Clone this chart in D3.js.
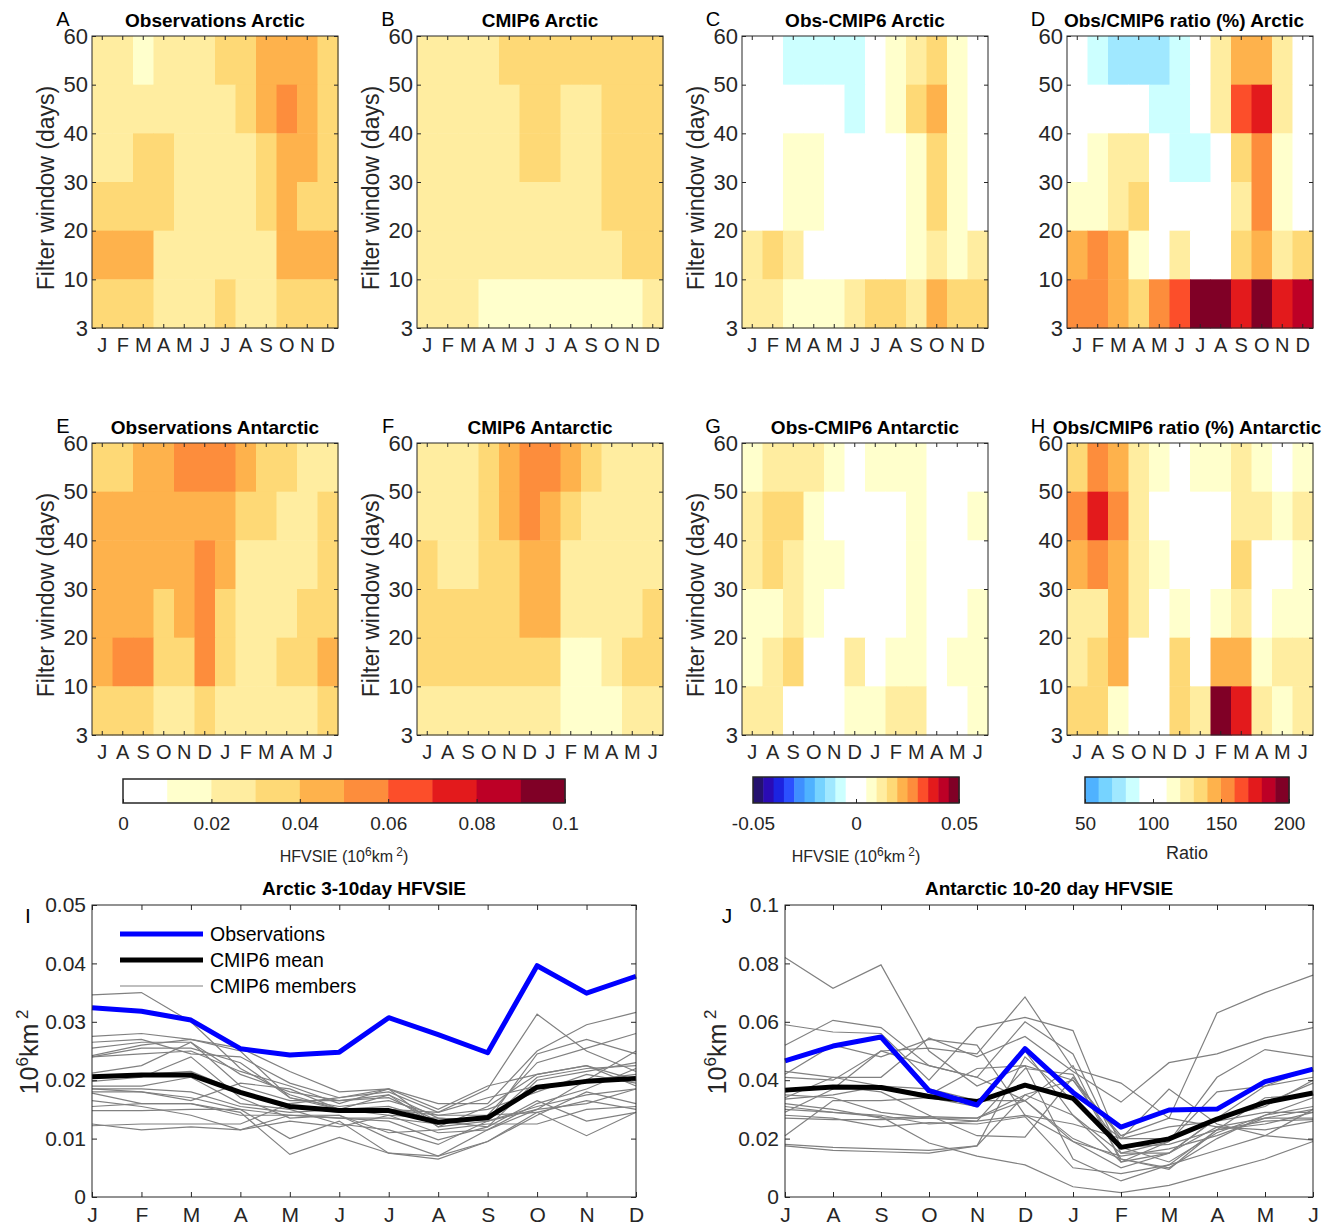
<!DOCTYPE html>
<html>
<head>
<meta charset="utf-8">
<script src="https://cdn.jsdelivr.net/npm/d3@7"></script>
<style>
  body { margin: 0; background: #fff; }
  svg text { font-family: "Liberation Sans", Arial, Helvetica, sans-serif; fill: #262626; }
</style>
</head>
<body>
<svg id="fig" width="1335" height="1226"></svg>
<script>
// month labels
const monthsNH = ["J","F","M","A","M","J","J","A","S","O","N","D"];
const monthsSH = ["J","A","S","O","N","D","J","F","M","A","M","J"];

// filter window tick labels (bottom to top) and the bands between them
const windowTicks = [3, 10, 20, 30, 40, 50, 60];
// grid rows below are listed top to bottom in this order
const windowBands = ["50-60", "40-50", "30-40", "20-30", "10-20", "3-10"];

// HFVSIE (10^6 km^2), observations, Arctic
const obsArctic = [
  [0.025,0.025,0.015,0.025,0.025,0.025,0.035,0.035,0.045,0.045,0.045,0.035],
  [0.025,0.025,0.025,0.025,0.025,0.025,0.025,0.035,0.045,0.055,0.045,0.035],
  [0.025,0.025,0.035,0.035,0.025,0.025,0.025,0.025,0.035,0.045,0.045,0.035],
  [0.035,0.035,0.035,0.035,0.025,0.025,0.025,0.025,0.035,0.045,0.035,0.035],
  [0.045,0.045,0.045,0.025,0.025,0.025,0.025,0.025,0.025,0.045,0.045,0.045],
  [0.035,0.035,0.035,0.025,0.025,0.025,0.035,0.025,0.025,0.035,0.035,0.035]
];
// CMIP6 mean, Arctic
const cmipArctic = [
  [0.025,0.025,0.025,0.025,0.035,0.035,0.035,0.035,0.035,0.035,0.035,0.035],
  [0.025,0.025,0.025,0.025,0.025,0.035,0.035,0.025,0.025,0.035,0.035,0.035],
  [0.025,0.025,0.025,0.025,0.025,0.035,0.035,0.025,0.025,0.035,0.035,0.035],
  [0.025,0.025,0.025,0.025,0.025,0.025,0.025,0.025,0.025,0.035,0.035,0.035],
  [0.025,0.025,0.025,0.025,0.025,0.025,0.025,0.025,0.025,0.025,0.035,0.035],
  [0.025,0.025,0.025,0.015,0.015,0.015,0.015,0.015,0.015,0.015,0.015,0.025]
];
// Obs - CMIP6, Arctic
const diffArctic = [
  [0,0,-0.0075,-0.0075,-0.0075,-0.0075,0,0.0075,0.0125,0.0175,0.0075,0],
  [0,0,0,0,0,-0.0075,0,0.0075,0.0175,0.0225,0.0075,0],
  [0,0,0.0075,0.0075,0,0,0,0,0.0075,0.0175,0.0075,0],
  [0,0,0.0075,0.0075,0,0,0,0,0.0075,0.0175,0.0075,0],
  [0.0125,0.0175,0.0125,0,0,0,0,0,0.0075,0.0125,0.0075,0.0125],
  [0.0125,0.0125,0.0075,0.0075,0.0075,0.0125,0.0175,0.0175,0.0125,0.0225,0.0175,0.0175]
];
// Obs/CMIP6 ratio (%), Arctic
const ratioArctic = [
  [100,85,75,75,75,85,100,125,145,145,125,100],
  [100,100,100,100,85,85,100,125,165,175,125,100],
  [100,115,125,125,100,85,85,100,135,155,115,100],
  [115,115,125,135,100,100,100,100,125,155,115,100],
  [145,155,145,115,100,125,100,100,135,145,125,135],
  [155,155,145,135,155,165,195,195,175,195,175,185]
];
// observations, Antarctic (July to June)
const obsAntarctic = [
  [0.035,0.035,0.045,0.045,0.055,0.055,0.055,0.045,0.035,0.035,0.025,0.025],
  [0.045,0.045,0.045,0.045,0.045,0.045,0.045,0.035,0.035,0.025,0.025,0.035],
  [0.045,0.045,0.045,0.045,0.045,0.055,0.045,0.025,0.025,0.025,0.025,0.035],
  [0.045,0.045,0.045,0.035,0.045,0.055,0.035,0.025,0.025,0.025,0.035,0.035],
  [0.045,0.055,0.055,0.035,0.035,0.055,0.035,0.025,0.025,0.035,0.035,0.045],
  [0.035,0.035,0.035,0.025,0.025,0.035,0.025,0.025,0.025,0.025,0.025,0.035]
];
// CMIP6 mean, Antarctic
const cmipAntarctic = [
  [0.025,0.025,0.025,0.035,0.045,0.055,0.055,0.045,0.035,0.025,0.025,0.025],
  [0.025,0.025,0.025,0.035,0.045,0.055,0.045,0.035,0.025,0.025,0.025,0.025],
  [0.035,0.025,0.025,0.035,0.035,0.045,0.045,0.025,0.025,0.025,0.025,0.025],
  [0.035,0.035,0.035,0.035,0.035,0.045,0.045,0.025,0.025,0.025,0.025,0.035],
  [0.035,0.035,0.035,0.035,0.035,0.035,0.035,0.015,0.015,0.025,0.035,0.035],
  [0.025,0.025,0.025,0.025,0.025,0.025,0.025,0.015,0.015,0.015,0.025,0.025]
];
// Obs - CMIP6, Antarctic
const diffAntarctic = [
  [0.0075,0.0125,0.0125,0.0125,0.0075,0,0.0075,0.0075,0.0075,0,0,0],
  [0.0125,0.0175,0.0175,0.0075,0,0,0,0,0.0075,0,0,0.0075],
  [0.0125,0.0175,0.0125,0.0075,0.0075,0,0,0,0.0075,0,0,0],
  [0.0075,0.0075,0.0125,0.0075,0,0,0,0,0.0075,0,0,0.0075],
  [0.0075,0.0125,0.0175,0,0,0.0125,0,0.0075,0.0075,0,0.0075,0.0075],
  [0.0125,0.0125,0,0,0,0.0075,0.0075,0.0125,0.0125,0,0,0.0075]
];
// Obs/CMIP6 ratio (%), Antarctic
const ratioAntarctic = [
  [135,155,145,125,115,100,115,115,125,115,100,115],
  [155,175,155,125,100,100,100,100,125,125,115,125],
  [145,155,145,125,115,100,100,100,135,100,100,115],
  [125,125,145,125,100,115,100,115,125,100,115,115],
  [125,135,145,100,100,135,100,145,145,115,125,125],
  [135,135,115,100,100,135,125,195,175,125,115,125]
];

// panel I: Arctic 3-10 day HFVSIE by month
const arcticObs  = [0.0324,0.0318,0.0303,0.0254,0.0243,0.0248,0.0307,0.0278,0.0247,0.0396,0.0349,0.0378];
const arcticMean = [0.0206,0.0209,0.0209,0.0179,0.0155,0.0148,0.0148,0.0128,0.0136,0.0188,0.0198,0.0203];
const arcticMembers = [
  [0.0346,0.0350,0.0300,0.0220,0.0175,0.0150,0.0155,0.0130,0.0135,0.0190,0.0200,0.0210],
  [0.0275,0.0280,0.0270,0.0255,0.0215,0.0180,0.0185,0.0160,0.0160,0.0250,0.0295,0.0316],
  [0.0265,0.0270,0.0245,0.0240,0.0195,0.0170,0.0180,0.0145,0.0185,0.0313,0.0250,0.0215],
  [0.0255,0.0265,0.0265,0.0210,0.0180,0.0165,0.0175,0.0135,0.0130,0.0245,0.0270,0.0245],
  [0.0242,0.0260,0.0270,0.0250,0.0170,0.0155,0.0165,0.0140,0.0140,0.0230,0.0255,0.0280],
  [0.0240,0.0245,0.0250,0.0215,0.0190,0.0160,0.0185,0.0120,0.0155,0.0210,0.0225,0.0200],
  [0.0212,0.0225,0.0265,0.0190,0.0165,0.0165,0.0170,0.0130,0.0120,0.0200,0.0215,0.0230],
  [0.0205,0.0210,0.0215,0.0180,0.0155,0.0145,0.0150,0.0140,0.0150,0.0180,0.0210,0.0195],
  [0.0198,0.0205,0.0240,0.0170,0.0135,0.0140,0.0100,0.0070,0.0115,0.0160,0.0185,0.0220],
  [0.0190,0.0190,0.0205,0.0160,0.0150,0.0125,0.0115,0.0090,0.0130,0.0155,0.0175,0.0185],
  [0.0185,0.0185,0.0180,0.0155,0.0145,0.0150,0.0140,0.0110,0.0115,0.0150,0.0160,0.0185],
  [0.0180,0.0180,0.0170,0.0150,0.0100,0.0130,0.0075,0.0065,0.0095,0.0140,0.0180,0.0160],
  [0.0178,0.0160,0.0160,0.0145,0.0073,0.0102,0.0075,0.0070,0.0095,0.0145,0.0165,0.0150],
  [0.0165,0.0155,0.0140,0.0115,0.0140,0.0135,0.0130,0.0098,0.0120,0.0165,0.0130,0.0145],
  [0.0155,0.0160,0.0160,0.0140,0.0140,0.0135,0.0135,0.0125,0.0140,0.0145,0.0105,0.0145],
  [0.0148,0.0148,0.0150,0.0150,0.0140,0.0140,0.0110,0.0115,0.0125,0.0125,0.0150,0.0155],
  [0.0125,0.0115,0.0120,0.0115,0.0130,0.0120,0.0140,0.0135,0.0130,0.0150,0.0200,0.0250],
  [0.0122,0.0125,0.0125,0.0125,0.0160,0.0170,0.0185,0.0150,0.0190,0.0210,0.0225,0.0190],
  [0.0185,0.0180,0.0165,0.0195,0.0185,0.0150,0.0150,0.0145,0.0170,0.0190,0.0200,0.0205],
  [0.0240,0.0255,0.0255,0.0230,0.0170,0.0150,0.0175,0.0120,0.0130,0.0205,0.0220,0.0225]
];

// panel J: Antarctic 10-20 day HFVSIE by month (July to June)
const antarcticObs  = [0.0466,0.0517,0.0548,0.0364,0.0315,0.0508,0.0358,0.0239,0.0298,0.0301,0.0395,0.0438];
const antarcticMean = [0.0366,0.0377,0.0375,0.0344,0.0327,0.0383,0.0338,0.0170,0.0199,0.0267,0.0324,0.0356];
const antarcticMembers = [
  [0.0820,0.0715,0.0795,0.0500,0.0380,0.0450,0.0400,0.0210,0.0270,0.0240,0.0270,0.0300],
  [0.0590,0.0565,0.0560,0.0400,0.0580,0.0615,0.0570,0.0170,0.0120,0.0220,0.0280,0.0340],
  [0.0520,0.0605,0.0580,0.0450,0.0410,0.0600,0.0490,0.0150,0.0190,0.0410,0.0505,0.0480],
  [0.0430,0.0410,0.0410,0.0545,0.0480,0.0550,0.0430,0.0325,0.0460,0.0490,0.0545,0.0580],
  [0.0410,0.0400,0.0500,0.0510,0.0490,0.0685,0.0440,0.0390,0.0270,0.0630,0.0700,0.0760],
  [0.0360,0.0380,0.0360,0.0280,0.0210,0.0205,0.0410,0.0200,0.0370,0.0250,0.0210,0.0195],
  [0.0350,0.0340,0.0290,0.0270,0.0260,0.0440,0.0420,0.0130,0.0100,0.0200,0.0280,0.0310],
  [0.0320,0.0300,0.0270,0.0275,0.0270,0.0350,0.0280,0.0120,0.0190,0.0360,0.0380,0.0410],
  [0.0300,0.0290,0.0280,0.0250,0.0260,0.0280,0.0190,0.0100,0.0150,0.0270,0.0310,0.0400],
  [0.0280,0.0270,0.0240,0.0255,0.0250,0.0275,0.0100,0.0080,0.0110,0.0230,0.0250,0.0290],
  [0.0270,0.0265,0.0265,0.0270,0.0270,0.0330,0.0190,0.0140,0.0165,0.0210,0.0270,0.0270],
  [0.0210,0.0330,0.0330,0.0340,0.0310,0.0500,0.0280,0.0150,0.0150,0.0240,0.0230,0.0260],
  [0.0180,0.0170,0.0165,0.0160,0.0175,0.0350,0.0400,0.0170,0.0180,0.0230,0.0260,0.0265],
  [0.0175,0.0160,0.0155,0.0150,0.0175,0.0480,0.0330,0.0200,0.0240,0.0260,0.0290,0.0290],
  [0.0310,0.0290,0.0275,0.0185,0.0140,0.0110,0.0035,0.0015,0.0040,0.0085,0.0130,0.0190],
  [0.0340,0.0410,0.0380,0.0350,0.0440,0.0450,0.0130,0.0055,0.0110,0.0160,0.0210,0.0300],
  [0.0290,0.0370,0.0500,0.0450,0.0410,0.0330,0.0200,0.0130,0.0095,0.0230,0.0340,0.0350],
  [0.0420,0.0520,0.0480,0.0540,0.0520,0.0280,0.0250,0.0200,0.0200,0.0270,0.0380,0.0440],
  [0.0335,0.0350,0.0380,0.0370,0.0330,0.0330,0.0450,0.0120,0.0150,0.0270,0.0320,0.0390]
];

// colour tables
const ylOrRd = ["#ffffcc","#ffeda0","#fed976","#feb24c","#fd8d3c","#fc4e2a","#e31a1c","#bd0026","#800026"];
const blues  = ["#24126f","#2a0bb5","#1c23e0","#2b50ff","#3f8fff","#4fb2ff","#76d3ff","#a0e8ff","#ccffff"];

const hfvsieColor = d3.scaleThreshold()
  .domain(d3.range(1, 10).map(i => i / 100))
  .range(["#ffffff", ...ylOrRd]);
const diffColor = d3.scaleThreshold()
  .domain(d3.range(-9, 10).map(i => i * 0.005))
  .range([...blues, "#ffffff", "#ffffff", ...ylOrRd]);
const ratioColor = d3.scaleThreshold()
  .domain(d3.range(60, 200, 10))
  .range([...blues.slice(5), "#ffffff", "#ffffff", ...ylOrRd]);

const svg = d3.select("#fig");
const axisCol = "#262626";

// heatmap geometry
const W = 246, H = 292;
const lefts = [92, 417, 742, 1067];
const tops = [36, 443];

function styleAxis(sel, size) {
  sel.select(".domain").remove();
  sel.selectAll(".tick line").attr("stroke", axisCol);
  sel.selectAll(".tick text").attr("font-size", size).attr("fill", axisCol);
}

function heatmap(p) {
  const g = svg.append("g");
  const x = d3.scaleBand().domain(d3.range(12)).range([p.left, p.left + W]);
  const y = d3.scaleBand().domain(windowBands).range([p.top, p.top + H]);
  const yt = d3.scalePoint().domain(windowTicks).range([p.top + H, p.top]);

  const cells = p.grid.flatMap((row, r) => row.map((v, c) => ({ band: windowBands[r], c, v })));
  g.selectAll("rect.cell")
    .data(cells)
    .join("rect")
    .attr("class", "cell")
    .attr("x", d => x(d.c))
    .attr("y", d => y(d.band))
    .attr("width", x.bandwidth() + 0.5)
    .attr("height", y.bandwidth() + 0.5)
    .attr("fill", d => p.color(d.v));

  g.append("g").attr("transform", `translate(0,${p.top + H})`)
    .call(d3.axisBottom(x).tickSize(-4).tickPadding(10).tickFormat(i => p.months[i]))
    .call(styleAxis, 20);
  g.append("g").attr("transform", `translate(0,${p.top})`)
    .call(d3.axisTop(x).tickSize(-4).tickFormat(""))
    .call(styleAxis, 20);
  g.append("g").attr("transform", `translate(${p.left},0)`)
    .call(d3.axisLeft(yt).tickSize(-4).tickPadding(4))
    .call(styleAxis, 22);
  g.append("g").attr("transform", `translate(${p.left + W},0)`)
    .call(d3.axisRight(yt).tickSize(-4).tickFormat(""))
    .call(styleAxis, 22);

  g.append("rect")
    .attr("x", p.left).attr("y", p.top).attr("width", W).attr("height", H)
    .attr("fill", "none").attr("stroke", axisCol).attr("stroke-width", 1);

  g.append("text")
    .attr("x", p.left + W / 2 + (p.titleShift || 0)).attr("y", p.top - 9)
    .attr("text-anchor", "middle").attr("font-size", 19).attr("font-weight", "bold")
    .style("fill", "#000")
    .text(p.title);
  g.append("text")
    .attr("x", p.left - 29).attr("y", p.top - 10)
    .attr("text-anchor", "middle").attr("font-size", 20)
    .style("fill", "#000")
    .text(p.letter);

  if (p.ylabel) {
    g.append("text")
      .attr("transform", `translate(${p.left - 38},${p.top + H / 2 + 6}) rotate(-90)`)
      .attr("text-anchor", "middle").attr("font-size", 23)
      .text("Filter window (days)");
  }
}

const panels = [
  { grid: obsArctic,      color: hfvsieColor, title: "Observations Arctic",          letter: "A", months: monthsNH, ylabel: true },
  { grid: cmipArctic,     color: hfvsieColor, title: "CMIP6 Arctic",                 letter: "B", months: monthsNH, ylabel: true },
  { grid: diffArctic,     color: diffColor,   title: "Obs-CMIP6 Arctic",             letter: "C", months: monthsNH, ylabel: true },
  { grid: ratioArctic,    color: ratioColor,  title: "Obs/CMIP6 ratio (%) Arctic",   letter: "D", months: monthsNH, ylabel: false, titleShift: -6 },
  { grid: obsAntarctic,   color: hfvsieColor, title: "Observations Antarctic",       letter: "E", months: monthsSH, ylabel: true },
  { grid: cmipAntarctic,  color: hfvsieColor, title: "CMIP6 Antarctic",              letter: "F", months: monthsSH, ylabel: true },
  { grid: diffAntarctic,  color: diffColor,   title: "Obs-CMIP6 Antarctic",          letter: "G", months: monthsSH, ylabel: true },
  { grid: ratioAntarctic, color: ratioColor,  title: "Obs/CMIP6 ratio (%) Antarctic", letter: "H", months: monthsSH, ylabel: false, titleShift: -3 }
];
panels.forEach((p, i) => heatmap({ ...p, left: lefts[i % 4], top: tops[Math.floor(i / 4)] }));

// colorbars
function colorbar(cb) {
  const g = svg.append("g");
  const x = d3.scaleLinear().domain(cb.domain).range([cb.x0, cb.x1]);
  const edges = [cb.domain[0], ...cb.color.domain(), cb.domain[1]];
  g.selectAll("rect.seg")
    .data(d3.pairs(edges))
    .join("rect")
    .attr("class", "seg")
    .attr("x", d => x(d[0]))
    .attr("y", cb.y0)
    .attr("width", d => x(d[1]) - x(d[0]) + 0.5)
    .attr("height", cb.y1 - cb.y0)
    .attr("fill", (d, i) => cb.color.range()[i]);
  g.append("g").attr("transform", `translate(0,${cb.y1})`)
    .call(d3.axisBottom(x).tickValues(cb.ticks).tickSize(-4).tickPadding(14).tickFormat(cb.fmt))
    .call(styleAxis, 19);
  g.append("rect")
    .attr("x", cb.x0).attr("y", cb.y0).attr("width", cb.x1 - cb.x0).attr("height", cb.y1 - cb.y0)
    .attr("fill", "none").attr("stroke", axisCol).attr("stroke-width", 1.5);
  const lbl = g.append("text")
    .attr("x", (cb.x0 + cb.x1) / 2).attr("y", cb.labelY)
    .attr("text-anchor", "middle").attr("font-size", cb.labelSize);
  if (cb.units) {
    lbl.append("tspan").text("HFVSIE (10");
    lbl.append("tspan").attr("dy", -6).attr("font-size", 12).text("6");
    lbl.append("tspan").attr("dy", 6).text("km");
    lbl.append("tspan").attr("dy", -6).attr("font-size", 12).text(" 2");
    lbl.append("tspan").attr("dy", 6).text(")");
  } else {
    lbl.text(cb.label);
  }
}

const numFmt = d => d === 0 ? "0" : String(+d.toFixed(3));
colorbar({ color: hfvsieColor, domain: [0, 0.1], x0: 123, x1: 565, y0: 779, y1: 803,
  ticks: [0, 0.02, 0.04, 0.06, 0.08, 0.1], fmt: numFmt, units: true, labelY: 862, labelSize: 16 });
colorbar({ color: diffColor, domain: [-0.05, 0.05], x0: 753, x1: 959, y0: 777, y1: 803,
  ticks: [-0.05, 0, 0.05], fmt: numFmt, units: true, labelY: 862, labelSize: 16 });
colorbar({ color: ratioColor, domain: [50, 200], x0: 1085, x1: 1289, y0: 777, y1: 803,
  ticks: [50, 100, 150, 200], fmt: d3.format("d"), units: false, label: "Ratio", labelY: 859, labelSize: 18 });

// line charts
function lineChart(p) {
  const g = svg.append("g");
  const top = 905, bottom = 1197;
  const x = d3.scalePoint().domain(d3.range(12)).range([p.left, p.right]);
  const y = d3.scaleLinear().domain([0, p.ymax]).range([bottom, top]);
  const line = d3.line().x((d, i) => x(i)).y(d => y(d));

  g.selectAll("path.member")
    .data(p.members)
    .join("path")
    .attr("class", "member")
    .attr("d", line)
    .attr("fill", "none").attr("stroke", "#808080").attr("stroke-width", 1.2);
  g.append("path").attr("d", line(p.mean))
    .attr("fill", "none").attr("stroke", "#000").attr("stroke-width", 5).attr("stroke-linejoin", "round");
  g.append("path").attr("d", line(p.obs))
    .attr("fill", "none").attr("stroke", "#0000ff").attr("stroke-width", 5).attr("stroke-linejoin", "round");

  g.append("g").attr("transform", `translate(0,${bottom})`)
    .call(d3.axisBottom(x).tickSize(-5).tickPadding(10).tickFormat(i => p.months[i]))
    .call(styleAxis, 21);
  g.append("g").attr("transform", `translate(0,${top})`)
    .call(d3.axisTop(x).tickSize(-5).tickFormat(""))
    .call(styleAxis, 21);
  g.append("g").attr("transform", `translate(${p.left},0)`)
    .call(d3.axisLeft(y).tickValues(p.yticks).tickSize(-5).tickPadding(6).tickFormat(numFmt))
    .call(styleAxis, 21);
  g.append("g").attr("transform", `translate(${p.right},0)`)
    .call(d3.axisRight(y).tickValues(p.yticks).tickSize(-5).tickFormat(""))
    .call(styleAxis, 21);
  g.append("rect")
    .attr("x", p.left).attr("y", top).attr("width", p.right - p.left).attr("height", bottom - top)
    .attr("fill", "none").attr("stroke", axisCol).attr("stroke-width", 1);

  g.append("text")
    .attr("x", (p.left + p.right) / 2).attr("y", top - 10)
    .attr("text-anchor", "middle").attr("font-size", 19).attr("font-weight", "bold")
    .style("fill", "#000")
    .text(p.title);
  g.append("text")
    .attr("x", p.letterX).attr("y", top + 18)
    .attr("text-anchor", "middle").attr("font-size", 21)
    .style("fill", "#000")
    .text(p.letter);

  const yl = g.append("text")
    .attr("transform", `translate(${p.ylabelX},${1052}) rotate(-90)`)
    .attr("text-anchor", "middle").attr("font-size", 25);
  yl.append("tspan").text("10");
  yl.append("tspan").attr("dy", -10).attr("font-size", 17).text("6");
  yl.append("tspan").attr("dy", 10).text("km");
  yl.append("tspan").attr("dy", -10).attr("font-size", 17).text(" 2");

  if (p.legend) {
    const items = [
      { label: "Observations", stroke: "#0000ff", w: 5 },
      { label: "CMIP6 mean", stroke: "#000", w: 5 },
      { label: "CMIP6 members", stroke: "#808080", w: 1.2 }
    ];
    const lg = g.selectAll("g.leg").data(items).join("g").attr("class", "leg")
      .attr("transform", (d, i) => `translate(120,${934 + i * 26})`);
    lg.append("line").attr("x1", 0).attr("x2", 83)
      .attr("stroke", d => d.stroke).attr("stroke-width", d => d.w);
    lg.append("text").attr("x", 90).attr("dy", "0.35em").attr("font-size", 19.5)
      .style("fill", "#000").text(d => d.label);
  }
}

lineChart({ left: 92, right: 636, ymax: 0.05, yticks: [0, 0.01, 0.02, 0.03, 0.04, 0.05],
  months: monthsNH, obs: arcticObs, mean: arcticMean, members: arcticMembers,
  title: "Arctic 3-10day HFVSIE", letter: "I", letterX: 28, ylabelX: 38, legend: true });
lineChart({ left: 785, right: 1313, ymax: 0.1, yticks: [0, 0.02, 0.04, 0.06, 0.08, 0.1],
  months: monthsSH, obs: antarcticObs, mean: antarcticMean, members: antarcticMembers,
  title: "Antarctic 10-20 day HFVSIE", letter: "J", letterX: 727, ylabelX: 726, legend: false });
</script>
</body>
</html>
